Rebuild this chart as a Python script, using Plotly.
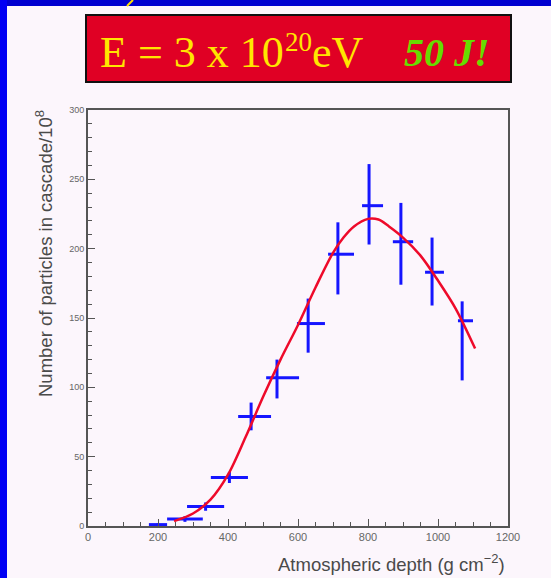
import plotly.graph_objects as go

# ---- data ----
depth = [200, 277, 336, 404, 466, 540, 629, 714, 803, 894, 983, 1069]
depth_err_minus = [26, 51, 53, 53, 37, 31, 32, 28, 20, 23, 20, 12]
depth_err_plus = [26, 51, 53, 53, 57, 63, 48, 46, 40, 35, 34, 31]
particles = [1, 5, 14, 35, 79, 107, 146, 196, 231, 205, 183, 148]
particles_err_plus = [1, 2, 3, 4, 10, 13, 18, 23, 30, 28, 25, 14]
particles_err_minus = [1, 2, 3, 4, 10, 15, 21, 29, 28, 31, 24, 43]

fit_depth = [246, 300, 350, 400, 450, 500, 550, 600, 650, 700, 730, 760,
             800, 830, 860, 900, 950, 1000, 1050, 1106]
fit_particles = [3.5, 9, 19, 37, 64, 93, 120, 145, 172, 197, 208, 216,
                 221.5, 221, 216, 208, 195, 177, 157, 128]

x_ticks = [0, 200, 400, 600, 800, 1000, 1200]
y_ticks = [0, 50, 100, 150, 200, 250, 300]

W, H = 551, 578
L, R, T, B = 88, 508, 110, 526  # plot area in pixels


def px(xpix):
    return (xpix - L) / (R - L)


def py(ypix):
    return (B - ypix) / (B - T)


panel = "#fcf6fc"
fig = go.Figure()

fig.add_trace(go.Scatter(
    x=depth, y=particles, mode="markers",
    marker=dict(size=1, color="#1010ff", opacity=0),
    error_x=dict(type="data", symmetric=False, array=depth_err_plus,
                 arrayminus=depth_err_minus, color="#1515ff", thickness=3, width=0),
    error_y=dict(type="data", symmetric=False, array=particles_err_plus,
                 arrayminus=particles_err_minus, color="#1515ff", thickness=3, width=0),
    showlegend=False, hoverinfo="skip"))

fig.add_trace(go.Scatter(
    x=fit_depth, y=fit_particles, mode="lines",
    line=dict(color="#ee0a2a", width=2.5, shape="spline", smoothing=0.9),
    showlegend=False, hoverinfo="skip"))

axis_common = dict(
    showgrid=False, zeroline=False, showline=True, mirror=True,
    linecolor="#555555", linewidth=2, ticks="inside", tickcolor="#555555",
    tickwidth=1.2, ticklen=7,
)

fig.update_xaxes(range=[0, 1200], tickvals=x_ticks, ticktext=[str(v) for v in x_ticks],
                 tickfont=dict(family="Liberation Sans", size=11, color="#666666"),
                 minor=dict(dtick=50, ticks="inside", ticklen=4, tickcolor="#555555", tickwidth=1),
                 **axis_common)
fig.update_yaxes(range=[0, 300], tickvals=y_ticks, ticktext=[str(v) for v in y_ticks],
                 tickfont=dict(family="Liberation Sans", size=9, color="#666666"),
                 minor=dict(dtick=10, ticks="inside", ticklen=4, tickcolor="#555555", tickwidth=1),
                 **axis_common)

shapes = [
    # blue frame strips
    dict(type="rect", xref="paper", yref="paper", x0=px(0), x1=px(W), y0=py(6), y1=py(0),
         fillcolor="#0000d0", line=dict(width=0), layer="below"),
    dict(type="rect", xref="paper", yref="paper", x0=px(0), x1=px(7), y0=py(W + 40), y1=py(0),
         fillcolor="#0000f4", line=dict(width=0), layer="below"),
    # yellow stroke at the top
    dict(type="line", xref="paper", yref="paper", x0=px(127), x1=px(133), y0=py(6), y1=py(0),
         line=dict(color="#ffe000", width=2)),
    # red title box shadow + box
    dict(type="rect", xref="paper", yref="paper", x0=px(85), x1=px(512), y0=py(83), y1=py(14),
         fillcolor="#777777", line=dict(width=0)),
    dict(type="rect", xref="paper", yref="paper", x0=px(86), x1=px(511), y0=py(82), y1=py(15),
         fillcolor="#e00024", line=dict(color="#111111", width=2)),
]

serif = "Liberation Serif"
annotations = [
    dict(xref="paper", yref="paper", x=px(98), y=py(52.2), xanchor="left", yanchor="middle",
         text="E = 3 x 10", showarrow=False,
         font=dict(family=serif, size=44, color="#ffe600")),
    dict(xref="paper", yref="paper", x=px(283), y=py(42.1), xanchor="left", yanchor="middle",
         text="20", showarrow=False,
         font=dict(family=serif, size=27, color="#ffe600")),
    dict(xref="paper", yref="paper", x=px(310), y=py(52.2), xanchor="left", yanchor="middle",
         text="eV", showarrow=False,
         font=dict(family=serif, size=44, color="#ffe600")),
    dict(xref="paper", yref="paper", x=px(402), y=py(52.5), xanchor="left", yanchor="middle",
         text="<b><i>50 J!</i></b>", showarrow=False,
         font=dict(family=serif, size=40, color="#66dd00")),
    dict(xref="paper", yref="paper", x=px(44), y=py(254), xanchor="center", yanchor="middle",
         text="Number of particles in cascade/10<sup>8</sup>", textangle=-90, showarrow=False,
         font=dict(family="Liberation Sans", size=18.5, color="#4a4a4a")),
    dict(xref="paper", yref="paper", x=px(507), y=py(563), xanchor="right", yanchor="middle",
         text="Atmospheric depth (g cm<sup>\u22122</sup>)", showarrow=False,
         font=dict(family="Liberation Sans", size=18.5, color="#4a4a4a")),
]

fig.update_layout(
    width=W, height=H,
    margin=dict(l=L, r=W - R, t=T, b=H - B, pad=0),
    paper_bgcolor=panel, plot_bgcolor=panel,
    shapes=shapes, annotations=annotations,
)

fig.write_html("out.html")
